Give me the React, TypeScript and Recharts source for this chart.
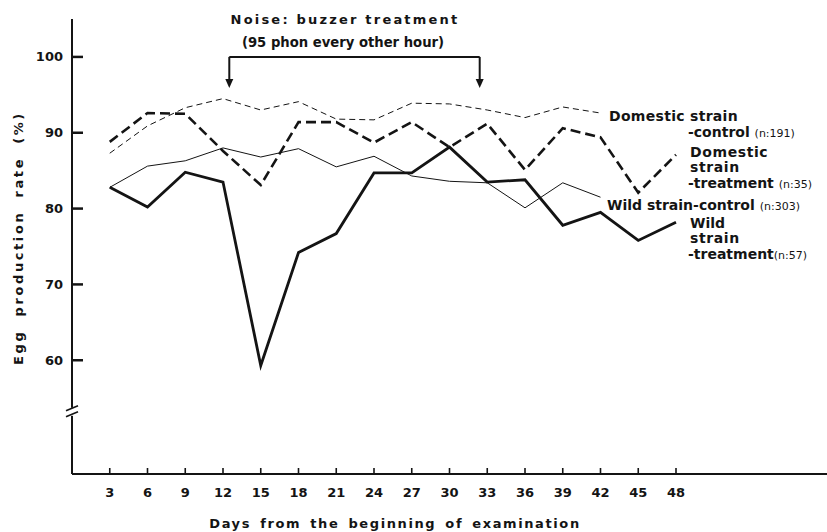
import React from "react";
import {
  LineChart,
  Line,
  XAxis,
  YAxis,
  ReferenceLine,
  ReferenceDot,
} from "recharts";

// days of examination (x categories)
const days = [3, 6, 9, 12, 15, 18, 21, 24, 27, 30, 33, 36, 39, 42, 45, 48];

// egg production rate (%) per series
const wildTreatment = [82.8, 80.2, 84.8, 83.5, 59.3, 74.2, 76.7, 84.7, 84.7, 88.1, 83.5, 83.8, 77.8, 79.5, 75.8, 78.2];
const wildControl = [82.8, 85.6, 86.3, 88.0, 86.8, 87.9, 85.5, 86.9, 84.3, 83.6, 83.4, 80.1, 83.4, 81.5];
const domesticTreatment = [88.8, 92.6, 92.5, 87.6, 83.1, 91.4, 91.4, 88.7, 91.4, 88.1, 91.2, 85.1, 90.6, 89.4, 82.1, 87.1];
const domesticControl = [87.3, 90.9, 93.3, 94.5, 93.0, 94.1, 91.8, 91.7, 93.9, 93.8, 93.0, 92.0, 93.4, 92.6];

const yTicks = [60, 70, 80, 90, 100];

// buzzer treatment period marked by the bracket
const treatmentStart = 12.5;
const treatmentEnd = 32.4;
const axisBreak = 53.2;

const data = days.map((day, i) => ({
  day,
  wildTreatment: wildTreatment[i] ?? null,
  wildControl: wildControl[i] ?? null,
  domesticTreatment: domesticTreatment[i] ?? null,
  domesticControl: domesticControl[i] ?? null,
}));

const INK = "#141414";
const FONT = "'DejaVu Sans', sans-serif";

const YTick = ({ x, y, payload }: any) => (
  <g>
    <text x={x} y={y + 4.5} textAnchor="end" fontFamily={FONT} fontWeight="bold" fontSize={13} fill={INK}>
      {payload.value}
    </text>
    <line x1={x + 9} x2={x + 20} y1={y} y2={y} stroke={INK} strokeWidth={2.5} />
  </g>
);

const XTick = ({ x, y, payload }: any) => (
  <g>
    <line x1={x} x2={x} y1={y} y2={y - 6} stroke={INK} strokeWidth={1.6} />
    <text x={x} y={y + 23} textAnchor="middle" fontFamily={FONT} fontWeight="bold" fontSize={13} fill={INK}>
      {payload.value}
    </text>
  </g>
);

const ArrowHead = ({ cx, cy }: any) => (
  <path d={`M${cx - 4},${cy - 9} L${cx + 4},${cy - 9} L${cx},${cy} Z`} fill={INK} />
);

const BreakMark = ({ cx, cy }: any) => (
  <g>
    <rect x={cx - 4} y={cy - 4} width={8} height={8} fill="#fff" />
    <line x1={cx - 6} y1={cy - 1} x2={cx + 6} y2={cy - 6} stroke={INK} strokeWidth={1.6} />
    <line x1={cx - 6} y1={cy + 5} x2={cx + 6} y2={cy} stroke={INK} strokeWidth={1.6} />
  </g>
);

const label = { fontFamily: FONT, fontWeight: "bold" as const, fontSize: 13, fill: INK };
const series = { ...label, fontSize: 14 };
const small = { fontFamily: FONT, fontWeight: "normal" as const, fontSize: 11, fill: INK };

export default function App() {
  return (
    <div style={{ position: "relative", width: 827, height: 532, background: "#fff" }}>
      <style>{`body{margin:0;background:#fff}`}</style>
      <LineChart
        width={827}
        height={532}
        data={data}
        margin={{ top: 19, right: 0, left: 32, bottom: 28 }}
      >
        <XAxis
          type="number"
          dataKey="day"
          domain={[0, 60]}
          ticks={days}
          height={30}
          tickSize={0}
          tickMargin={0}
          tick={<XTick />}
          axisLine={{ stroke: INK, strokeWidth: 2 }}
        />
        <YAxis
          type="number"
          domain={[45, 105]}
          ticks={yTicks}
          width={40}
          tickSize={0}
          tickMargin={9}
          tick={<YTick />}
          axisLine={{ stroke: INK, strokeWidth: 2 }}
        />
        <ReferenceLine
          segment={[{ x: treatmentStart, y: 100 }, { x: treatmentEnd, y: 100 }]}
          stroke={INK}
          strokeWidth={2}
        />
        <ReferenceLine
          segment={[{ x: treatmentStart, y: 100 }, { x: treatmentStart, y: 96.6 }]}
          stroke={INK}
          strokeWidth={2}
        />
        <ReferenceLine
          segment={[{ x: treatmentEnd, y: 100 }, { x: treatmentEnd, y: 96.6 }]}
          stroke={INK}
          strokeWidth={2}
        />
        <ReferenceDot x={treatmentStart} y={95.9} shape={<ArrowHead />} />
        <ReferenceDot x={treatmentEnd} y={95.9} shape={<ArrowHead />} />
        <ReferenceDot x={0} y={axisBreak} shape={<BreakMark />} ifOverflow="visible" />

        <Line
          dataKey="domesticControl"
          stroke={INK}
          strokeWidth={1}
          strokeDasharray="6 4"
          dot={false}
          isAnimationActive={false}
        />
        <Line
          dataKey="wildControl"
          stroke={INK}
          strokeWidth={1}
          dot={false}
          isAnimationActive={false}
        />
        <Line
          dataKey="domesticTreatment"
          stroke={INK}
          strokeWidth={2.6}
          strokeDasharray="10 5"
          dot={false}
          isAnimationActive={false}
        />
        <Line
          dataKey="wildTreatment"
          stroke={INK}
          strokeWidth={2.8}
          dot={false}
          isAnimationActive={false}
        />
      </LineChart>

      <svg
        width={827}
        height={532}
        style={{ position: "absolute", left: 0, top: 0, pointerEvents: "none" }}
      >
        <text x={345} y={24} textAnchor="middle" {...label} letterSpacing={2.2}>
          Noise: buzzer treatment
        </text>
        <text x={343} y={47} textAnchor="middle" {...label} fontSize={13.2}>
          (95 phon every other hour)
        </text>

        <text x={609} y={121} {...series} letterSpacing={0.3}>Domestic strain</text>
        <text x={688} y={137} {...series}>
          -control <tspan {...small}>(n:191)</tspan>
        </text>
        <text x={690} y={157} {...series} letterSpacing={0.6}>Domestic</text>
        <text x={690} y={172} {...series} letterSpacing={0.6}>strain</text>
        <text x={688} y={188} {...series}>
          -treatment <tspan {...small}>(n:35)</tspan>
        </text>
        <text x={607} y={210} {...series}>
          Wild strain-control <tspan {...small}>(n:303)</tspan>
        </text>
        <text x={690} y={228} {...series}>Wild</text>
        <text x={690} y={243} {...series} letterSpacing={0.6}>strain</text>
        <text x={688} y={259} {...series}>
          -treatment<tspan {...small}>(n:57)</tspan>
        </text>

        <text x={395} y={528} textAnchor="middle" {...label} letterSpacing={1.6} wordSpacing={3}>
          Days from the beginning of examination
        </text>
        <text
          x={0}
          y={0}
          transform="translate(23,238) rotate(-90)"
          textAnchor="middle"
          {...label}
          letterSpacing={2.6}
          wordSpacing={6}
        >
          Egg production rate (%)
        </text>
      </svg>
    </div>
  );
}
